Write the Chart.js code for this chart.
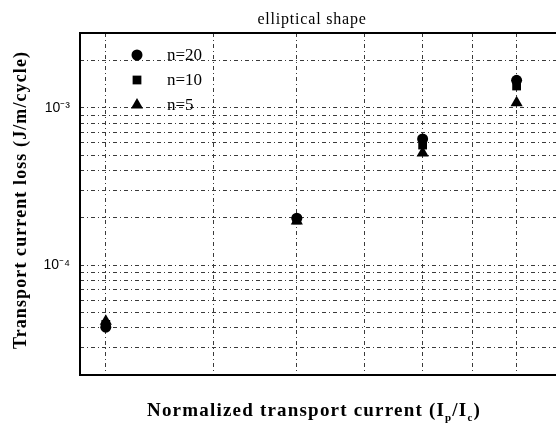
<!DOCTYPE html>
<html lang="en">
<head>
<meta charset="UTF-8">
<title>elliptical shape</title>
<script src="https://cdn.jsdelivr.net/npm/chart.js"></script>
<style>
    html, body { margin: 0; padding: 0; background: #fff; overflow: hidden; }
    canvas { display: block; }
</style>
</head>
<body>
<canvas id="lossChart" width="556" height="438"></canvas>
<script>
// normalized transport current and loss values
const currents = [0.3, 0.5, 0.7, 0.9];
const lossN20 = [4.03e-5, 1.99e-4, 6.35e-4, 1.5e-3];
const lossN10 = [4.2e-5, 1.94e-4, 5.81e-4, 1.38e-3];
const lossN5 = [4.39e-5, 1.91e-4, 5.17e-4, 1.08e-3];

const seriesNames = ['n=20', 'n=10', 'n=5'];
const xTicks = [0.3, 0.4, 0.5, 0.6, 0.7, 0.8, 0.9, 1.0];
const yTicks = [2e-5, 3e-5, 4e-5, 5e-5, 6e-5, 7e-5, 8e-5, 9e-5,
                1e-4, 2e-4, 3e-4, 4e-4, 5e-4, 6e-4, 7e-4, 8e-4, 9e-4,
                1e-3, 2e-3, 3e-3];
const yLabelValues = [1e-4, 1e-3];
const yLabelTexts = ['10⁻⁴', '10⁻³'];

const gridStyle = {
    color: '#3a3a3a',
    lineWidth: 1,
    drawTicks: false
};

// draw a row of text pieces (font, y shift) centred on cx
function drawPieces(ctx, parts, cx, y, spacing) {
    ctx.letterSpacing = spacing;
    let total = 0;
    parts.forEach(p => { ctx.font = p[1]; total += ctx.measureText(p[0]).width; });
    let x = cx - total / 2;
    parts.forEach(p => {
        ctx.font = p[1];
        ctx.fillText(p[0], x, y + p[2]);
        x += ctx.measureText(p[0]).width;
    });
    ctx.letterSpacing = '0px';
}

// frame, title, legend and axis titles
const extras = {
    id: 'extras',
    afterDraw(chart) {
        const ctx = chart.ctx;
        const a = chart.chartArea;
        ctx.save();
        ctx.strokeStyle = '#000';
        ctx.lineWidth = 2;
        ctx.beginPath();
        ctx.moveTo(a.right + 5, a.top);
        ctx.lineTo(a.left, a.top);
        ctx.lineTo(a.left, a.bottom);
        ctx.lineTo(a.right + 5, a.bottom);
        ctx.stroke();

        ctx.fillStyle = '#000';
        ctx.textAlign = 'left';
        ctx.textBaseline = 'alphabetic';

        // title
        drawPieces(ctx, [['elliptical shape', '16px "Liberation Serif", serif', 0]], 312, 24, '0.8px');

        // legend inside plot
        const styles = ['circle', 'rect', 'triangle'];
        const radii = [5.5, 6.2, 7];
        ctx.textBaseline = 'middle';
        ctx.font = '17px "Liberation Serif", serif';
        seriesNames.forEach((name, i) => {
            const y = 55 + i * 25;
            Chart.helpers.drawPoint(ctx, {pointStyle: styles[i], radius: radii[i], rotation: 0, borderWidth: 0}, 137, y);
            ctx.fillText(name, 167, y + 1);
        });
        ctx.textBaseline = 'alphabetic';

        // x title with subscripts
        const big = 'bold 19px "Liberation Serif", serif';
        const small = 'bold 11px "Liberation Serif", serif';
        drawPieces(ctx, [
            ['Normalized transport current (I', big, 0],
            ['p', small, 5],
            ['/I', big, 0],
            ['c', small, 5],
            [')', big, 0]
        ], 314, 416, '1.2px');

        // y title
        ctx.translate(26, 200);
        ctx.rotate(-Math.PI / 2);
        drawPieces(ctx, [['Transport current loss (J/m/cycle)', 'bold 18px "Liberation Serif", serif', 0]], 0, 0, '1.1px');
        ctx.restore();
    }
};

const toPoints = vals => vals.map((v, i) => ({x: currents[i], y: v}));

new Chart(document.getElementById('lossChart'), {
    type: 'scatter',
    data: {
        datasets: [
            { label: seriesNames[0], data: toPoints(lossN20), pointStyle: 'circle', pointRadius: 5.5 },
            { label: seriesNames[1], data: toPoints(lossN10), pointStyle: 'rect', pointRadius: 6.2 },
            { label: seriesNames[2], data: toPoints(lossN5), pointStyle: 'triangle', pointRadius: 7 }
        ].map(d => Object.assign(d, {
            backgroundColor: '#000',
            borderColor: '#000',
            borderWidth: 0,
            pointHoverRadius: d.pointRadius
        }))
    },
    options: {
        responsive: false,
        animation: false,
        layout: { autoPadding: false, padding: { top: 33, right: 0, bottom: 0, left: 0 } },
        plugins: {
            legend: { display: false },
            tooltip: { enabled: false }
        },
        scales: {
            x: {
                type: 'logarithmic',
                min: 0.28,
                max: 1.0,
                afterBuildTicks: axis => { axis.ticks = xTicks.map(v => ({value: v})); },
                afterFit: axis => { axis.height = 63; },
                ticks: { display: false },
                grid: gridStyle,
                border: { display: false, dash: [4, 3, 1, 3] }
            },
            y: {
                type: 'logarithmic',
                min: 2e-5,
                max: 3e-3,
                afterBuildTicks: axis => { axis.ticks = yTicks.map(v => ({value: v})); },
                afterFit: axis => { axis.width = 80; },
                ticks: {
                    padding: 10,
                    color: '#000',
                    font: { family: '"Liberation Sans", Arial, sans-serif', size: 14 },
                    autoSkip: false,
                    callback: v => {
                        const i = yLabelValues.indexOf(v);
                        return i >= 0 ? yLabelTexts[i] : '';
                    }
                },
                grid: gridStyle,
                border: { display: false, dash: [4, 3, 1, 3] }
            }
        }
    },
    plugins: [extras]
});
</script>
</body>
</html>
